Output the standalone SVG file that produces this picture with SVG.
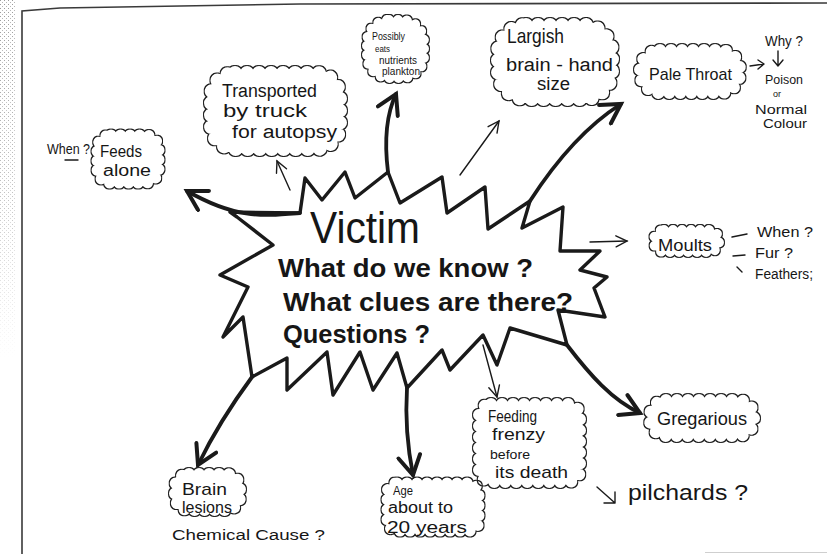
<svg xmlns="http://www.w3.org/2000/svg" width="827" height="554" viewBox="0 0 827 554">
<defs>
  <style>
    text { font-family: "Liberation Sans", Arial, sans-serif; fill: #161616; }
    .title { font-size: 44px; }
    .q { font-size: 26px; font-weight: bold; }
    .cloud { filter: url(#cloudline); }
    .cloud rect { fill: #000; stroke: #000; stroke-linecap: round; }
    .thick { fill: none; stroke: #1a1a1a; stroke-width: 3.8; stroke-linecap: round; stroke-linejoin: round; }
    .thin { fill: none; stroke: #1a1a1a; stroke-width: 1.4; stroke-linecap: round; stroke-linejoin: round; }
    .burst { fill: #fff; stroke: #1a1a1a; stroke-width: 3.4; stroke-linejoin: round; }
  </style>
  <filter id="cloudline" filterUnits="userSpaceOnUse" x="0" y="0" width="827" height="554">
    <feMorphology in="SourceAlpha" operator="dilate" radius="1.2" result="d"/>
    <feComposite in="d" in2="SourceAlpha" operator="out" result="ring"/>
    <feFlood flood-color="#1c1c1c"/>
    <feComposite in2="ring" operator="in"/>
  </filter>
  <marker id="big" markerUnits="userSpaceOnUse" viewBox="0 0 30 26" markerWidth="30" markerHeight="26" refX="23" refY="13" orient="auto">
    <path d="M4,2 L23,13 L4,24" fill="none" stroke="#1a1a1a" stroke-width="4" stroke-linecap="round" stroke-linejoin="miter"/>
  </marker>
  <marker id="small" markerUnits="userSpaceOnUse" viewBox="0 0 16 14" markerWidth="16" markerHeight="14" refX="13" refY="7" orient="auto">
    <path d="M2,1.5 L13,7 L2,12.5" fill="none" stroke="#1a1a1a" stroke-width="1.4" stroke-linecap="round"/>
  </marker>
  <pattern id="stipple" patternUnits="userSpaceOnUse" width="4" height="4">
    <rect x="0" y="0" width="1" height="1" fill="#9a9a9a"/>
    <rect x="2" y="2" width="1" height="1" fill="#b5b5b5"/>
  </pattern>
  <linearGradient id="fade" x1="0" y1="0" x2="0" y2="1">
    <stop offset="0" stop-color="#fff" stop-opacity="1"/>
    <stop offset="0.55" stop-color="#fff" stop-opacity="0.6"/>
    <stop offset="1" stop-color="#fff" stop-opacity="0"/>
  </linearGradient>
  <mask id="fademask"><rect x="0" y="0" width="16" height="360" fill="url(#fade)"/></mask>
</defs>

<rect x="0" y="0" width="827" height="554" fill="#fff"/>

<!-- paper edge / frame -->
<g id="frame">
  <rect x="0" y="0" width="16" height="360" fill="url(#stipple)" mask="url(#fademask)"/>
  <path d="M22,554 L22,11 L60,8 L300,4 L827,3" fill="none" stroke="#3a3a3a" stroke-width="1.6"/>
  <path d="M705,552.5 L827,552.5" fill="none" stroke="#cfcfcf" stroke-width="1"/>
</g>

<!-- central node -->
<g id="victim">
  <polygon class="burst" points="230,212 300,213 305,178 322,200 345,172 355,198 388,172 400,203 442,177 447,213 485,187 488,229 530,201 522,228 563,207 560,251 600,251 580,270 607,277 594,288 605,317 558,310 567,345 510,328 497,365 483,335 450,370 442,350 407,388 397,353 373,390 360,352 333,395 327,352 287,390 287,358 252,377 243,317 223,337 248,287 220,275 273,245 237,217"/>
  <text class="title" x="310" y="243" textLength="110" lengthAdjust="spacingAndGlyphs">Victim</text>
  <text class="q" x="278" y="277" textLength="255" lengthAdjust="spacingAndGlyphs">What do we know ?</text>
  <text class="q" x="283" y="311" textLength="290" lengthAdjust="spacingAndGlyphs">What clues are there?</text>
  <text class="q" x="283" y="343" textLength="147" lengthAdjust="spacingAndGlyphs">Questions ?</text>
</g>

<!-- connectors -->
<g id="connectors">
  <path class="thick" d="M300,213 C262,216 236,219 187,191" marker-end="url(#big)"/>
  <path class="thick" d="M388,172 C384,140 386,115 396,94" marker-end="url(#big)"/>
  <path class="thin" d="M290,190 L277,161" marker-end="url(#small)"/>
  <path class="thin" d="M460,175 L499,121" marker-end="url(#small)"/>
  <path class="thick" d="M530,201 C550,170 580,130 621,104" marker-end="url(#big)"/>
  <path class="thin" d="M590,242 L627,241" marker-end="url(#small)"/>
  <path class="thick" d="M567,345 C590,375 612,400 640,413" marker-end="url(#big)"/>
  <path class="thin" d="M483,345 L497,397" marker-end="url(#small)"/>
  <path class="thick" d="M407,388 C405,420 408,450 413,475" marker-end="url(#big)"/>
  <path class="thick" d="M252,377 C235,400 215,430 198,465" marker-end="url(#big)"/>
  <!-- small side arrows -->
  <path class="thin" d="M750,66 L764,64 M758,60 L764,64 L758,69"/>
  <path class="thin" d="M778,51 L778,66 M773,60 L778,66 L783,60"/>
  <path class="thin" d="M597,487 L615,503 M615,492 L615,503 L604,503"/>
  <path class="thin" d="M65,160 L78,160"/>
  <path class="thin" d="M732,237 L747,234 M733,256 L745,255 M737,267 L742,272"/>
</g>

<!-- nodes -->
<g id="possibly">
  <g class="cloud"><rect x="367" y="20" width="57" height="58" rx="22" stroke-width="10" stroke-dasharray="0.01 9"/></g>
  <text x="372" y="40" font-size="11" textLength="33" lengthAdjust="spacingAndGlyphs">Possibly</text>
  <text x="375" y="52" font-size="9" textLength="15" lengthAdjust="spacingAndGlyphs">eats</text>
  <text x="379" y="64" font-size="10" textLength="38" lengthAdjust="spacingAndGlyphs">nutrients</text>
  <text x="382" y="75" font-size="10" textLength="38" lengthAdjust="spacingAndGlyphs">plankton</text>
</g>

<g id="transported">
  <g class="cloud"><rect x="211" y="73" width="129" height="76" rx="24" stroke-width="14" stroke-dasharray="0.01 12"/></g>
  <text x="222" y="97" font-size="18" textLength="95" lengthAdjust="spacingAndGlyphs">Transported</text>
  <text x="223" y="117" font-size="18" textLength="84" lengthAdjust="spacingAndGlyphs">by    truck</text>
  <text x="232" y="138" font-size="18" textLength="105" lengthAdjust="spacingAndGlyphs">for autopsy</text>
</g>

<g id="feeds">
  <text x="47" y="154" font-size="14" textLength="43" lengthAdjust="spacingAndGlyphs">When ?</text>
  <g class="cloud"><rect x="97" y="135" width="62" height="48" rx="14" stroke-width="11" stroke-dasharray="0.01 9.5"/></g>
  <text x="100" y="157" font-size="17" textLength="42" lengthAdjust="spacingAndGlyphs">Feeds</text>
  <text x="103" y="176" font-size="16" textLength="48" lengthAdjust="spacingAndGlyphs">alone</text>
</g>

<g id="largish">
  <g class="cloud"><rect x="498" y="25" width="114" height="74" rx="28" stroke-width="14" stroke-dasharray="0.01 12"/></g>
  <text x="507" y="43" font-size="21" textLength="57" lengthAdjust="spacingAndGlyphs">Largish</text>
  <text x="506" y="71" font-size="18" textLength="107" lengthAdjust="spacingAndGlyphs">brain - hand</text>
  <text x="537" y="90" font-size="18" textLength="33" lengthAdjust="spacingAndGlyphs">size</text>
</g>

<g id="pale-throat">
  <g class="cloud"><rect x="640" y="50" width="100" height="43" rx="20" stroke-width="12" stroke-dasharray="0.01 11"/></g>
  <text x="649" y="80" font-size="17" textLength="83" lengthAdjust="spacingAndGlyphs">Pale  Throat</text>
  <text x="765" y="46" font-size="14" textLength="38" lengthAdjust="spacingAndGlyphs">Why ?</text>
  <text font-size="12"><tspan x="765" y="84" textLength="38" lengthAdjust="spacingAndGlyphs">Poison</tspan><tspan x="773" y="97" font-size="9">or</tspan><tspan x="755" y="114" textLength="52" lengthAdjust="spacingAndGlyphs">Normal</tspan><tspan x="763" y="128" textLength="44" lengthAdjust="spacingAndGlyphs">Colour</tspan></text>
</g>

<g id="moults">
  <g class="cloud"><rect x="654" y="230" width="65" height="22" rx="10" stroke-width="10" stroke-dasharray="0.01 9"/></g>
  <text x="658" y="251" font-size="17" textLength="54" lengthAdjust="spacingAndGlyphs">Moults</text>
  <text x="757" y="237" font-size="14" textLength="56" lengthAdjust="spacingAndGlyphs">When ?</text>
  <text x="755" y="258" font-size="14" textLength="38" lengthAdjust="spacingAndGlyphs">Fur ?</text>
  <text x="755" y="279" font-size="14" textLength="58" lengthAdjust="spacingAndGlyphs">Feathers;</text>
</g>

<g id="gregarious">
  <g class="cloud"><rect x="650" y="400" width="104" height="36" rx="16" stroke-width="12" stroke-dasharray="0.01 11"/></g>
  <text x="657" y="425" font-size="18" textLength="90" lengthAdjust="spacingAndGlyphs">Gregarious</text>
</g>

<g id="feeding">
  <g class="cloud"><rect x="479" y="404" width="101" height="78" rx="12" stroke-width="12" stroke-dasharray="0.01 11"/></g>
  <text x="488" y="422" font-size="17" textLength="49" lengthAdjust="spacingAndGlyphs">Feeding</text>
  <text x="492" y="440" font-size="17" textLength="53" lengthAdjust="spacingAndGlyphs">frenzy</text>
  <text x="490" y="459" font-size="13" textLength="40" lengthAdjust="spacingAndGlyphs">before</text>
  <text x="495" y="478" font-size="17" textLength="73" lengthAdjust="spacingAndGlyphs">its death</text>
  <text x="628" y="500" font-size="22" textLength="120" lengthAdjust="spacingAndGlyphs">pilchards ?</text>
</g>

<g id="age">
  <g class="cloud"><rect x="387" y="483" width="92" height="48" rx="10" stroke-width="11" stroke-dasharray="0.01 10"/></g>
  <text x="393" y="495" font-size="12" textLength="20" lengthAdjust="spacingAndGlyphs">Age</text>
  <text x="388" y="513" font-size="16" textLength="65" lengthAdjust="spacingAndGlyphs">about to</text>
  <text x="387" y="533" font-size="16" textLength="80" lengthAdjust="spacingAndGlyphs">20  years</text>
</g>

<g id="brain-lesions">
  <g class="cloud"><rect x="175" y="474" width="65" height="36" rx="14" stroke-width="12" stroke-dasharray="0.01 10"/></g>
  <text x="182" y="495" font-size="17" textLength="45" lengthAdjust="spacingAndGlyphs">Brain</text>
  <text x="182" y="513" font-size="17" textLength="50" lengthAdjust="spacingAndGlyphs">lesions</text>
  <text x="172" y="540" font-size="14" textLength="153" lengthAdjust="spacingAndGlyphs">Chemical   Cause  ?</text>
</g>
</svg>
